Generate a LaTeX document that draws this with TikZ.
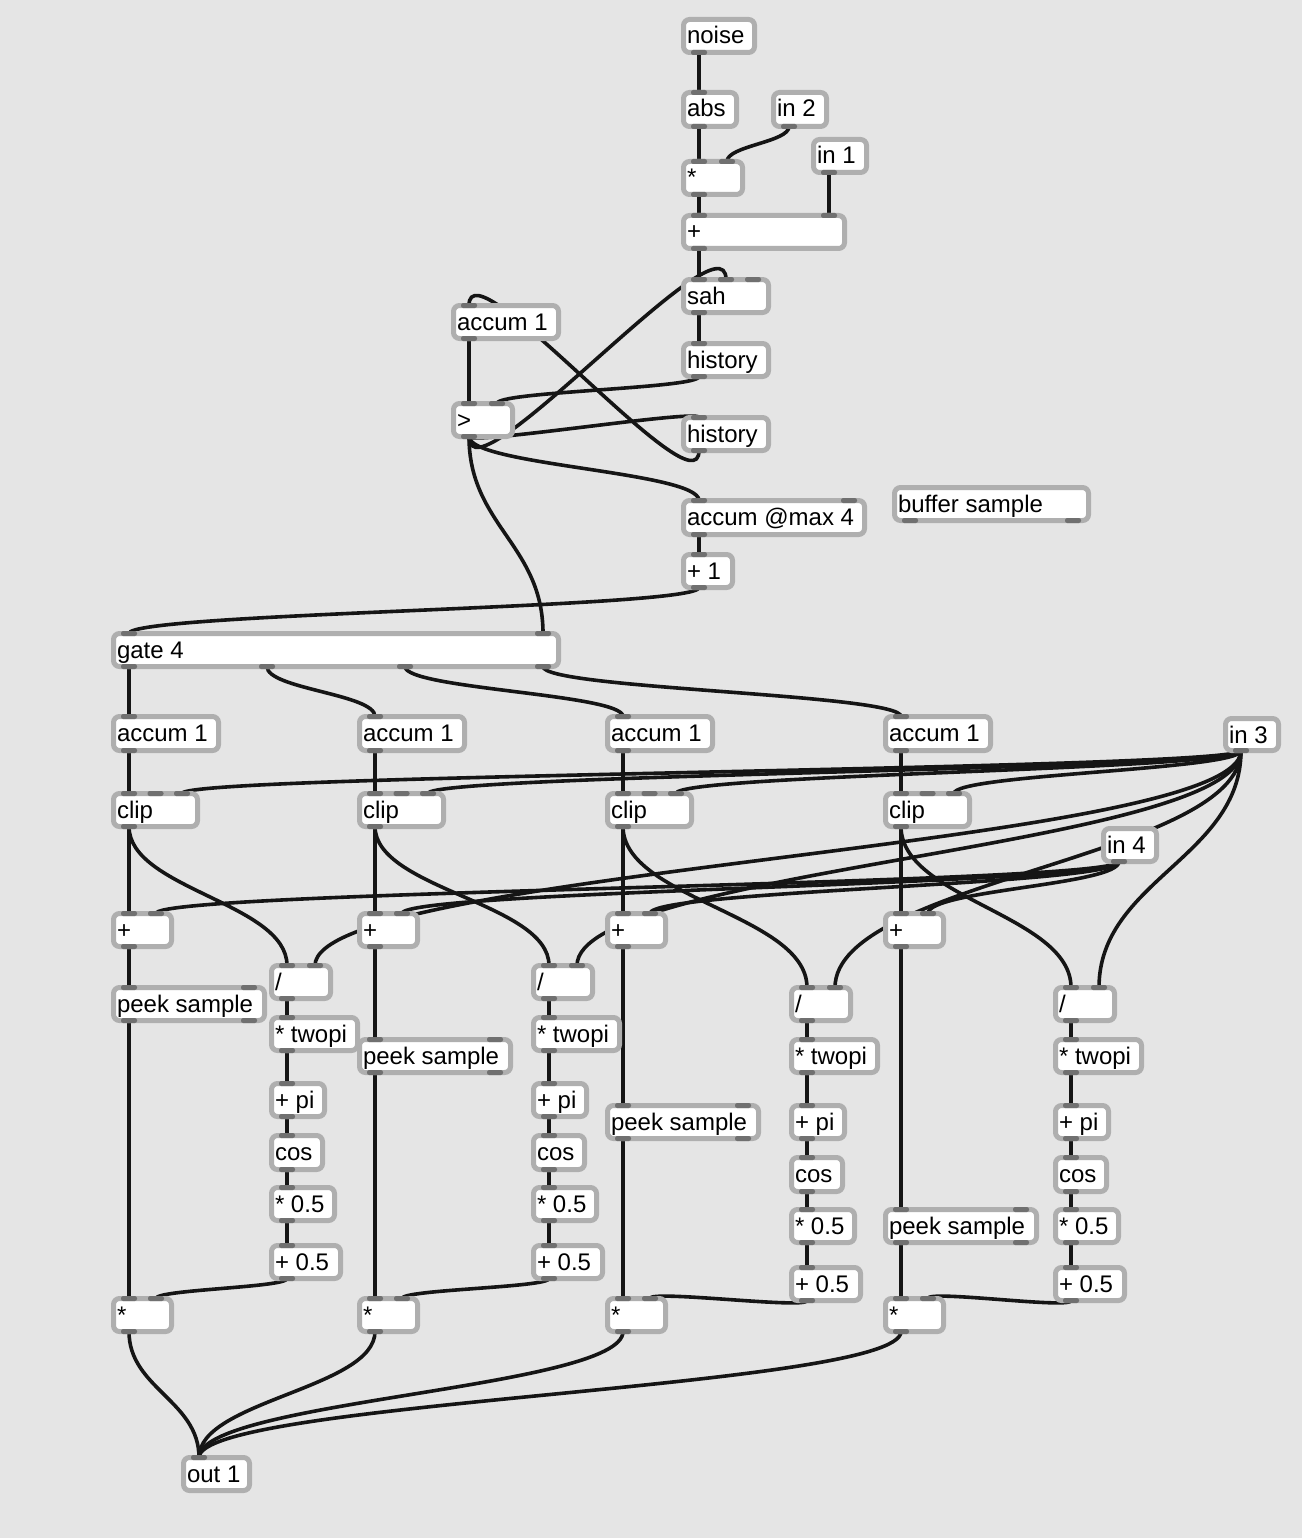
\documentclass[tikz,border=0pt]{standalone}
\usepackage{fontspec}
\setmainfont{Liberation Sans}
\usetikzlibrary{calc}
\definecolor{bgc}{HTML}{E5E5E5}
\definecolor{framec}{HTML}{AFAFAF}
\definecolor{portc}{HTML}{707070}
\definecolor{wirec}{HTML}{151515}
\pgfdeclarelayer{bgl}
\pgfdeclarelayer{wires}
\pgfsetlayers{bgl,wires,main}
\tikzset{
  boxframe/.style={draw=framec, line width=5pt, fill=white, rounded corners=6pt, inner sep=0pt, outer sep=0pt},
  boxtext/.style={font=\fontsize{24}{28}\selectfont, inner sep=0pt, outer sep=0pt, anchor=base west},
  portbar/.style={fill=portc, rounded corners=2.2pt, minimum width=16pt, minimum height=5pt, inner sep=0pt, outer sep=0pt},
  wire/.style={draw=wirec, line width=3.6pt},
}
% name, x1, y1, x2, y2, text, inlets, outlets
\newcommand\maxbox[8]{%
  \node[boxframe, minimum width={(#4)-(#2)-5}, minimum height={(#5)-(#3)-5}] (#1) at ({((#2)+(#4))/2},{((#3)+(#5))/2}) {};
  \node[boxtext] (#1-t) at ({(#2)+6},{(#3)+27}) {#6};
  \ifnum#7>0
    \foreach \k in {1,...,#7}{%
      \pgfmathsetmacro\px{(#2)+18+(\k-1)*((#4)-(#2)-36)/max(#7-1,1)}
      \node[portbar] (#1-i\k) at (\px,{(#3)+2.5}) {};
    }%
  \fi
  \ifnum#8>0
    \foreach \k in {1,...,#8}{%
      \pgfmathsetmacro\px{(#2)+18+(\k-1)*((#4)-(#2)-36)/max(#8-1,1)}
      \node[portbar] (#1-o\k) at (\px,{(#5)-2.5}) {};
    }%
  \fi
}
\newcommand\cord[2]{%
  \draw[wire] let \p1=(#1.center), \p2=(#2.center), \n1={max(9pt,0.45*abs(\y2-\y1))} in
    (\p1) .. controls +(0pt,-\n1) and +(0pt,\n1) .. (\p2);
}
% chain: letter, left column x, right column x, right column y shift, peek y
\newcommand\chain[5]{%
  \maxbox{acc#1}{#2}{714}{(#2)+110}{753}{accum 1}{1}{1}
  \maxbox{clip#1}{#2}{791}{(#2)+89}{829}{clip}{3}{1}
  \maxbox{pl#1}{#2}{911}{(#2)+63}{949}{+}{2}{1}
  \maxbox{peek#1}{#2}{#5}{(#2)+156}{(#5)+38}{peek sample}{2}{2}
  \maxbox{div#1}{#3}{963+(#4)}{(#3)+64}{1001+(#4)}{/}{2}{1}
  \maxbox{tp#1}{#3}{1015+(#4)}{(#3)+91}{1053+(#4)}{* twopi}{1}{1}
  \maxbox{pi#1}{#3}{1081+(#4)}{(#3)+58}{1119+(#4)}{+ pi}{1}{1}
  \maxbox{cos#1}{#3}{1133+(#4)}{(#3)+56}{1172+(#4)}{cos}{1}{1}
  \maxbox{hm#1}{#3}{1185+(#4)}{(#3)+68}{1223+(#4)}{* 0.5}{1}{1}
  \maxbox{ha#1}{#3}{1243+(#4)}{(#3)+74}{1281+(#4)}{+ 0.5}{1}{1}
  \maxbox{mul#1}{#2}{1296}{(#2)+63}{1334}{*}{2}{1}
}
\newcommand\chainwires[1]{%
  \cord{acc#1-o1}{clip#1-i1}
  \cord{inC-o1}{clip#1-i3}
  \cord{clip#1-o1}{pl#1-i1}
  \cord{clip#1-o1}{div#1-i1}
  \cord{inD-o1}{pl#1-i2}
  \cord{inC-o1}{div#1-i2}
  \cord{pl#1-o1}{peek#1-i1}
  \cord{peek#1-o1}{mul#1-i1}
  \cord{div#1-o1}{tp#1-i1}
  \cord{tp#1-o1}{pi#1-i1}
  \cord{pi#1-o1}{cos#1-i1}
  \cord{cos#1-o1}{hm#1-i1}
  \cord{hm#1-o1}{ha#1-i1}
  \cord{ha#1-o1}{mul#1-i2}
  \cord{mul#1-o1}{outA-i1}
}
\begin{document}
\begin{tikzpicture}[x=1pt,y=-1pt]
\begin{pgfonlayer}{bgl}
  \fill[bgc] (0,0) rectangle (1302,1538);
\end{pgfonlayer}
\useasboundingbox (0,0) rectangle (1302,1538);

\maxbox{noise}{681}{17}{757}{55}{noise}{0}{1}
\maxbox{abs}{681}{90}{739}{129}{abs}{1}{1}
\maxbox{inB}{771}{90}{829}{129}{in 2}{0}{1}
\maxbox{mulN}{681}{159}{745}{197}{*}{2}{1}
\maxbox{inA}{811}{137}{869}{175}{in 1}{0}{1}
\maxbox{addN}{681}{213}{847}{251}{+}{2}{1}
\maxbox{sah}{681}{277}{771}{315}{sah}{3}{1}
\maxbox{histA}{681}{341}{771}{379}{history}{1}{1}
\maxbox{histB}{681}{415}{771}{453}{history}{1}{1}
\maxbox{accT}{451}{303}{561}{341}{accum 1}{1}{1}
\maxbox{gt}{451}{401}{515}{439}{>}{2}{1}
\maxbox{accmax}{681}{498}{867}{537}{accum @max 4}{2}{1}
\maxbox{plusone}{681}{552}{735}{590}{+ 1}{1}{1}
\maxbox{buf}{892}{485}{1091}{523}{buffer sample}{0}{2}
\maxbox{gate}{111}{631}{561}{669}{gate 4}{2}{4}

\chain{a}{111}{269}{0}{985}
\chain{b}{357}{531}{0}{1037}
\chain{c}{605}{789}{22}{1103}
\chain{d}{883}{1053}{22}{1207}

\maxbox{inC}{1223}{716}{1281}{753}{in 3}{0}{1}
\maxbox{inD}{1101}{826}{1159}{864}{in 4}{0}{1}
\maxbox{outA}{181}{1455}{252}{1493}{out 1}{1}{0}

\begin{pgfonlayer}{wires}
  \cord{noise-o1}{abs-i1}
  \cord{abs-o1}{mulN-i1}
  \cord{inB-o1}{mulN-i2}
  \cord{mulN-o1}{addN-i1}
  \cord{inA-o1}{addN-i2}
  \cord{addN-o1}{sah-i1}
  \cord{gt-o1}{sah-i2}
  \cord{sah-o1}{histA-i1}
  \cord{histA-o1}{gt-i2}
  \cord{accT-o1}{gt-i1}
  \cord{histB-o1}{accT-i1}
  \cord{gt-o1}{histB-i1}
  \cord{gt-o1}{accmax-i1}
  \cord{accmax-o1}{plusone-i1}
  \cord{plusone-o1}{gate-i1}
  \cord{gt-o1}{gate-i2}
  \cord{gate-o1}{acca-i1}
  \cord{gate-o2}{accb-i1}
  \cord{gate-o3}{accc-i1}
  \cord{gate-o4}{accd-i1}
  \chainwires{a}
  \chainwires{b}
  \chainwires{c}
  \chainwires{d}
\end{pgfonlayer}
\end{tikzpicture}
\end{document}
